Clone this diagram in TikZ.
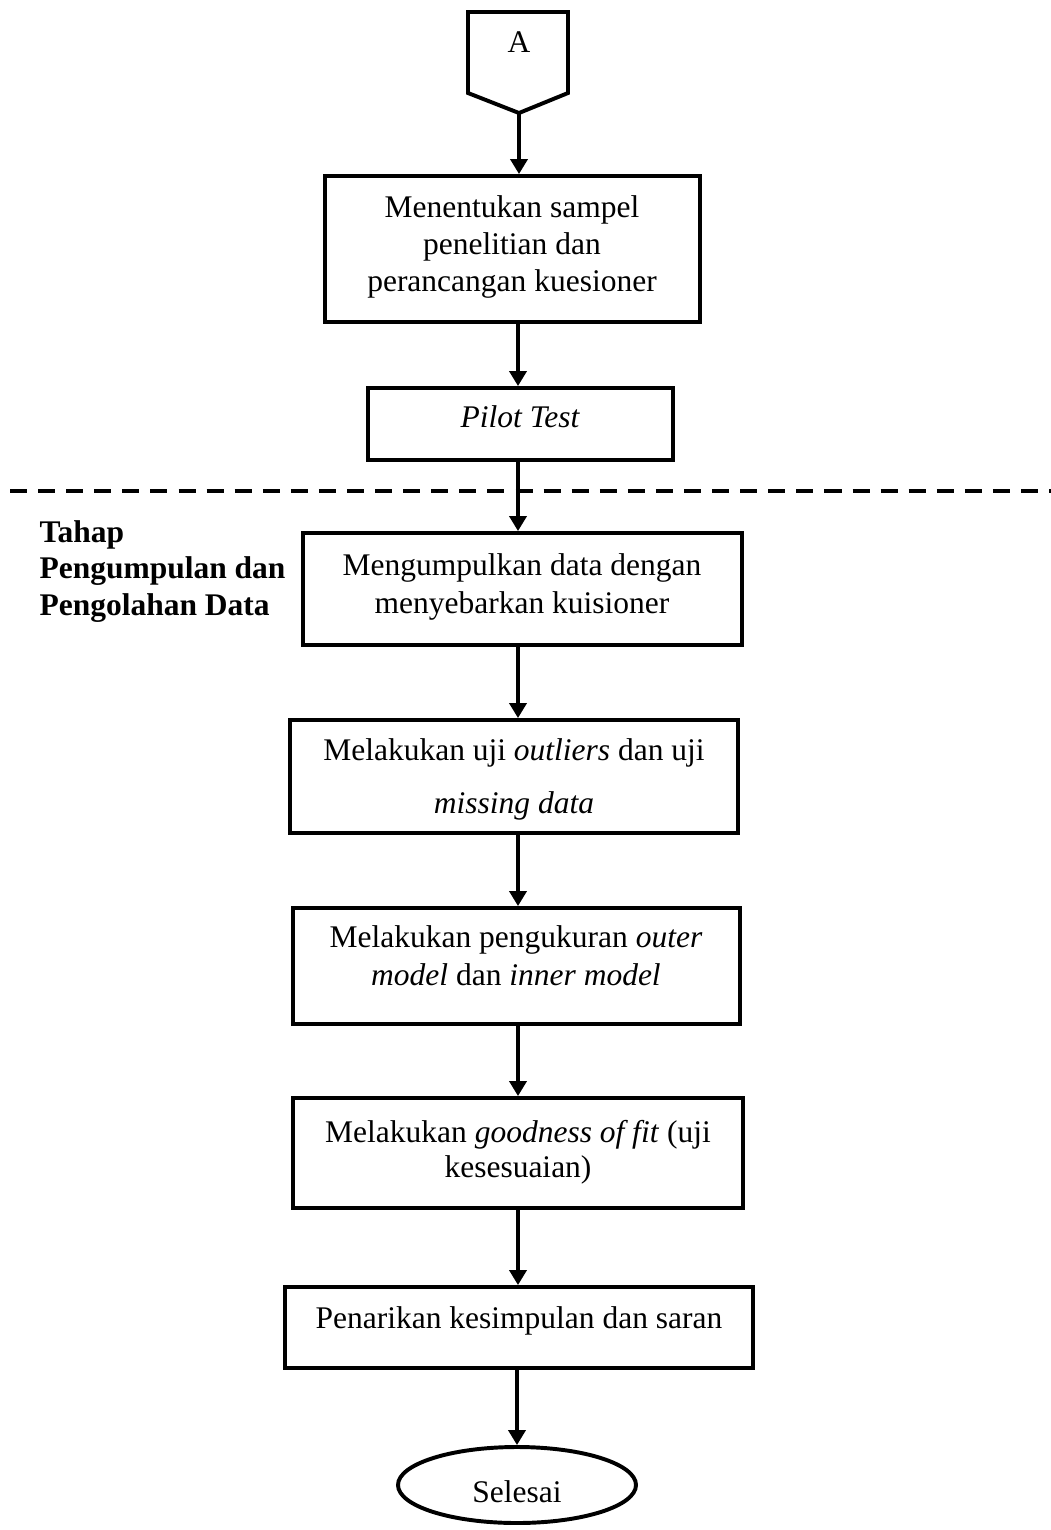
\documentclass[tikz,border=0pt]{standalone}
\usepackage{fontspec}
\setmainfont{Liberation Serif}
\usetikzlibrary{arrows.meta,shapes.geometric,fit}
\newcommand\pxu{0.381pt}

\begin{document}
\begin{tikzpicture}[x=0.381pt,y=-0.381pt,
  stepbox/.style={draw,line width=1.5pt,inner sep=0pt},
  txt/.style={inner sep=0pt,anchor=base,font=\fontsize{12}{14}\selectfont},
  lbl/.style={inner sep=0pt,anchor=base west,font=\fontsize{12}{14}\selectfont\bfseries},
  arr/.style={line width=1.3pt,-{Triangle[length=5.7pt,width=6.5pt]}},
]
\useasboundingbox (0,0) rectangle (1051,1530);

% off-page connector
\draw[line width=1.5pt,line join=miter] (468,12) -- (568,12) -- (568,93) -- (519,113) -- (468,93) -- cycle;
\coordinate (Atip) at (519,113);
\node[txt] (tA) at (519,52) {A};

% process boxes
\node[stepbox,fit={(325,176) (700,322)}] (b1) {};
\node[stepbox,fit={(368,388) (673,460)}] (b2) {};
\node[stepbox,fit={(303,533) (742,645)}] (b3) {};
\node[stepbox,fit={(290,720) (738,833)}] (b4) {};
\node[stepbox,fit={(293,908) (740,1024)}] (b5) {};
\node[stepbox,fit={(293,1098) (743,1208)}] (b6) {};
\node[stepbox,fit={(285,1287) (753,1368)}] (b7) {};
\node[draw,ellipse,line width=1.5pt,inner sep=0pt,minimum width=238*\pxu,minimum height=76*\pxu] (end) at (517,1485) {};

% box texts
\node[txt] (t1a) at (512,217) {Menentukan sampel};
\node[txt] (t1b) at (512,254) {penelitian dan};
\node[txt] (t1c) at (512,291) {perancangan kuesioner};
\node[txt] (t2) at (520,427) {\itshape Pilot Test};
\node[txt] (t3a) at (522,575) {Mengumpulkan data dengan};
\node[txt] (t3b) at (522,613) {menyebarkan kuisioner};
\node[txt] (t4a) at (514,760) {Melakukan uji \textit{outliers} dan uji};
\node[txt] (t4b) at (514,813) {\itshape missing data};
\node[txt] (t5a) at (516,947) {Melakukan pengukuran \textit{outer}};
\node[txt] (t5b) at (516,985) {\textit{model} dan \textit{inner model}};
\node[txt] (t6a) at (518,1142) {Melakukan \textit{goodness of fit} (uji};
\node[txt] (t6b) at (518,1177) {kesesuaian)};
\node[txt] (t7) at (519,1328) {Penarikan kesimpulan dan saran};
\node[txt] (tend) at (517,1502) {Selesai};

% phase label
\node[lbl] (p1) at (39,542) {Tahap};
\node[lbl] (p2) at (39,578) {Pengumpulan dan};
\node[lbl] (p3) at (39,615) {Pengolahan Data};

% phase separator
\draw[line width=1.5pt,dash pattern=on 6.5pt off 4.2pt] (10,491) -- (1051,491);

% connectors
\coordinate (spine) at (518,0);
\draw[arr] (Atip) -- (b1.north -| Atip);
\draw[arr] (b1.south -| spine) -- (b2.north -| spine);
\draw[arr] (b2.south -| spine) -- (b3.north -| spine);
\draw[arr] (b3.south -| spine) -- (b4.north -| spine);
\draw[arr] (b4.south -| spine) -- (b5.north -| spine);
\draw[arr] (b5.south -| spine) -- (b6.north -| spine);
\draw[arr] (b6.south -| spine) -- (b7.north -| spine);
\draw[arr] (b7.south -| end) -- (end.north);
\end{tikzpicture}
\end{document}
